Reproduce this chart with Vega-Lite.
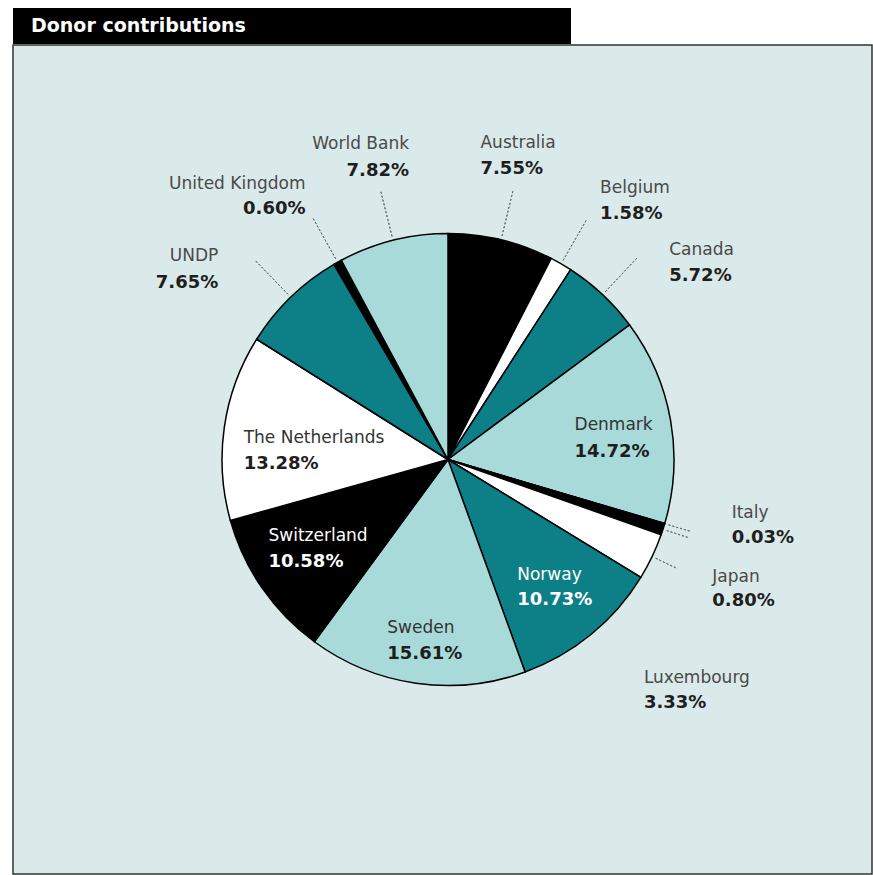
{
  "$schema": "https://vega.github.io/schema/vega-lite/v6.json",
  "background": "#ffffff",
  "padding": {"left": 12, "top": 8, "right": 0, "bottom": 0},
  "spacing": 0,
  "config": {"arc": {"x": {"expr": "concat_1_width/2+5.5"}}, "text": {"x": {"expr": "concat_1_width/2+5.5"}}},
  "vconcat": [
    {
      "width": 558,
      "height": 36,
      "view": {"fill": "#000000", "stroke": null},
      "title": {"text": "Donor contributions", "anchor": "start", "frame": "group", "orient": "top", "offset": -43, "baseline": "alphabetic", "dx": 18, "color": "#ffffff", "font": "DejaVu Sans", "fontSize": 19, "fontWeight": "bold"},
      "data": {"values": [{"k": 1}]},
      "mark": {"type": "point", "opacity": 0},
      "encoding": {}
    },
    {
      "width": 859,
      "height": 829,
      "view": {"fill": "#dae9e9", "stroke": "#333333", "strokeWidth": 1.5},
      "data": {"values": [
        {"country": "Australia", "share": 0.0755, "ord": 1},
        {"country": "Belgium", "share": 0.0158, "ord": 2},
        {"country": "Canada", "share": 0.0572, "ord": 3},
        {"country": "Denmark", "share": 0.1472, "ord": 4},
        {"country": "Italy", "share": 0.0003, "ord": 5},
        {"country": "Japan", "share": 0.0080, "ord": 6},
        {"country": "Luxembourg", "share": 0.0333, "ord": 7},
        {"country": "Norway", "share": 0.1073, "ord": 8},
        {"country": "Sweden", "share": 0.1561, "ord": 9},
        {"country": "Switzerland", "share": 0.1058, "ord": 10},
        {"country": "The Netherlands", "share": 0.1328, "ord": 11},
        {"country": "UNDP", "share": 0.0765, "ord": 12},
        {"country": "United Kingdom", "share": 0.0060, "ord": 13},
        {"country": "World Bank", "share": 0.0782, "ord": 14}
      ]},
      "encoding": {
        "theta": {"field": "share", "type": "quantitative", "stack": true},
        "order": {"field": "ord", "type": "quantitative"},
        "detail": {"field": "country", "type": "nominal"}
      },
      "layer": [
        {"mark": {"type": "arc", "outerRadius": 226, "stroke": "#000000", "strokeWidth": 1.5},
         "encoding": {"color": {"field": "country", "type": "nominal", "legend": null,
           "scale": {"domain": ["Australia","Belgium","Canada","Denmark","Italy","Japan","Luxembourg","Norway","Sweden","Switzerland","The Netherlands","UNDP","United Kingdom","World Bank"],
                     "range": ["#000000","#ffffff","#0d7f86","#a8dada","#000000","#000000","#ffffff","#0d7f86","#a8dada","#000000","#ffffff","#0d7f86","#000000","#a8dada"]}}}},
        {"mark": {"type": "arc", "innerRadius": 229, "outerRadius": 276, "padAngle": 3, "filled": false, "stroke": "#6a6a6a", "strokeWidth": 1, "strokeDash": [2, 2]},
         "encoding": {"strokeOpacity": {"condition": {"test": "indexof(['Australia','Belgium','Canada','UNDP','United Kingdom','World Bank'], datum.country) >= 0", "value": 1}, "value": 0}}},
        {"mark": {"type": "arc", "innerRadius": 229, "outerRadius": 252, "padAngle": 3, "filled": false, "stroke": "#6a6a6a", "strokeWidth": 1, "strokeDash": [2, 2]},
         "encoding": {"strokeOpacity": {"condition": {"test": "indexof(['Italy','Japan','Luxembourg'], datum.country) >= 0", "value": 1}, "value": 0}}},

        {"mark": {"type": "text", "radius": 300, "align": "left", "baseline": "middle", "dx": -38, "dy": -25, "font": "DejaVu Sans", "fontSize": 17, "fill": "#4a4a4a"},
         "encoding": {"text": {"condition": {"test": "datum.country === 'Australia'", "field": "country", "type": "nominal"}, "value": ""}}},
        {"mark": {"type": "text", "radius": 300, "align": "left", "baseline": "middle", "dx": -38, "dy": 1, "font": "DejaVu Sans", "fontSize": 18, "fontWeight": "bold", "fill": "#1e1e1e"},
         "encoding": {"text": {"condition": {"test": "datum.country === 'Australia'", "field": "share", "type": "quantitative", "format": ".2%"}, "value": ""}}},

        {"mark": {"type": "text", "radius": 300, "align": "left", "baseline": "middle", "dx": 2, "dy": -12, "font": "DejaVu Sans", "fontSize": 17, "fill": "#4a4a4a"},
         "encoding": {"text": {"condition": {"test": "datum.country === 'Belgium'", "field": "country", "type": "nominal"}, "value": ""}}},
        {"mark": {"type": "text", "radius": 300, "align": "left", "baseline": "middle", "dx": 2, "dy": 14, "font": "DejaVu Sans", "fontSize": 18, "fontWeight": "bold", "fill": "#1e1e1e"},
         "encoding": {"text": {"condition": {"test": "datum.country === 'Belgium'", "field": "share", "type": "quantitative", "format": ".2%"}, "value": ""}}},

        {"mark": {"type": "text", "radius": 300, "align": "left", "baseline": "middle", "dx": 16, "dy": 9, "font": "DejaVu Sans", "fontSize": 17, "fill": "#4a4a4a"},
         "encoding": {"text": {"condition": {"test": "datum.country === 'Canada'", "field": "country", "type": "nominal"}, "value": ""}}},
        {"mark": {"type": "text", "radius": 300, "align": "left", "baseline": "middle", "dx": 16, "dy": 35, "font": "DejaVu Sans", "fontSize": 18, "fontWeight": "bold", "fill": "#1e1e1e"},
         "encoding": {"text": {"condition": {"test": "datum.country === 'Canada'", "field": "share", "type": "quantitative", "format": ".2%"}, "value": ""}}},

        {"mark": {"type": "text", "radius": 300, "align": "left", "baseline": "middle", "dx": -4, "dy": -32, "font": "DejaVu Sans", "fontSize": 17, "fill": "#4a4a4a"},
         "encoding": {"text": {"condition": {"test": "datum.country === 'Italy'", "field": "country", "type": "nominal"}, "value": ""}}},
        {"mark": {"type": "text", "radius": 300, "align": "left", "baseline": "middle", "dx": -4, "dy": -7, "font": "DejaVu Sans", "fontSize": 18, "fontWeight": "bold", "fill": "#1e1e1e"},
         "encoding": {"text": {"condition": {"test": "datum.country === 'Italy'", "field": "share", "type": "quantitative", "format": ".2%"}, "value": ""}}},

        {"mark": {"type": "text", "radius": 300, "align": "left", "baseline": "middle", "dx": -21, "dy": 25, "font": "DejaVu Sans", "fontSize": 17, "fill": "#4a4a4a"},
         "encoding": {"text": {"condition": {"test": "datum.country === 'Japan'", "field": "country", "type": "nominal"}, "value": ""}}},
        {"mark": {"type": "text", "radius": 300, "align": "left", "baseline": "middle", "dx": -21, "dy": 49, "font": "DejaVu Sans", "fontSize": 18, "fontWeight": "bold", "fill": "#1e1e1e"},
         "encoding": {"text": {"condition": {"test": "datum.country === 'Japan'", "field": "share", "type": "quantitative", "format": ".2%"}, "value": ""}}},

        {"mark": {"type": "text", "radius": 300, "align": "left", "baseline": "middle", "dx": -75, "dy": 90, "font": "DejaVu Sans", "fontSize": 17, "fill": "#4a4a4a"},
         "encoding": {"text": {"condition": {"test": "datum.country === 'Luxembourg'", "field": "country", "type": "nominal"}, "value": ""}}},
        {"mark": {"type": "text", "radius": 300, "align": "left", "baseline": "middle", "dx": -75, "dy": 115, "font": "DejaVu Sans", "fontSize": 18, "fontWeight": "bold", "fill": "#1e1e1e"},
         "encoding": {"text": {"condition": {"test": "datum.country === 'Luxembourg'", "field": "share", "type": "quantitative", "format": ".2%"}, "value": ""}}},

        {"mark": {"type": "text", "radius": 300, "align": "right", "baseline": "middle", "dx": -21, "dy": 12, "font": "DejaVu Sans", "fontSize": 17, "fill": "#4a4a4a"},
         "encoding": {"text": {"condition": {"test": "datum.country === 'UNDP'", "field": "country", "type": "nominal"}, "value": ""}}},
        {"mark": {"type": "text", "radius": 300, "align": "right", "baseline": "middle", "dx": -21, "dy": 39, "font": "DejaVu Sans", "fontSize": 18, "fontWeight": "bold", "fill": "#1e1e1e"},
         "encoding": {"text": {"condition": {"test": "datum.country === 'UNDP'", "field": "share", "type": "quantitative", "format": ".2%"}, "value": ""}}},

        {"mark": {"type": "text", "radius": 300, "align": "right", "baseline": "middle", "dx": 4, "dy": -14, "font": "DejaVu Sans", "fontSize": 17, "fill": "#4a4a4a"},
         "encoding": {"text": {"condition": {"test": "datum.country === 'United Kingdom'", "field": "country", "type": "nominal"}, "value": ""}}},
        {"mark": {"type": "text", "radius": 300, "align": "right", "baseline": "middle", "dx": 4, "dy": 11, "font": "DejaVu Sans", "fontSize": 18, "fontWeight": "bold", "fill": "#1e1e1e"},
         "encoding": {"text": {"condition": {"test": "datum.country === 'United Kingdom'", "field": "share", "type": "quantitative", "format": ".2%"}, "value": ""}}},

        {"mark": {"type": "text", "radius": 300, "align": "right", "baseline": "middle", "dx": 34, "dy": -25, "font": "DejaVu Sans", "fontSize": 17, "fill": "#4a4a4a"},
         "encoding": {"text": {"condition": {"test": "datum.country === 'World Bank'", "field": "country", "type": "nominal"}, "value": ""}}},
        {"mark": {"type": "text", "radius": 300, "align": "right", "baseline": "middle", "dx": 34, "dy": 2, "font": "DejaVu Sans", "fontSize": 18, "fontWeight": "bold", "fill": "#1e1e1e"},
         "encoding": {"text": {"condition": {"test": "datum.country === 'World Bank'", "field": "share", "type": "quantitative", "format": ".2%"}, "value": ""}}},

        {"mark": {"type": "text", "radius": 160, "align": "left", "baseline": "middle", "dx": -31, "dy": -7, "font": "DejaVu Sans", "fontSize": 17, "fill": "#333333"},
         "encoding": {"text": {"condition": {"test": "datum.country === 'Denmark'", "field": "country", "type": "nominal"}, "value": ""}}},
        {"mark": {"type": "text", "radius": 160, "align": "left", "baseline": "middle", "dx": -31, "dy": 20, "font": "DejaVu Sans", "fontSize": 18, "fontWeight": "bold", "fill": "#1e1e1e"},
         "encoding": {"text": {"condition": {"test": "datum.country === 'Denmark'", "field": "share", "type": "quantitative", "format": ".2%"}, "value": ""}}},

        {"mark": {"type": "text", "radius": 160, "align": "left", "baseline": "middle", "dx": -32, "dy": -8, "font": "DejaVu Sans", "fontSize": 17, "fill": "#ffffff"},
         "encoding": {"text": {"condition": {"test": "datum.country === 'Norway'", "field": "country", "type": "nominal"}, "value": ""}}},
        {"mark": {"type": "text", "radius": 160, "align": "left", "baseline": "middle", "dx": -32, "dy": 17, "font": "DejaVu Sans", "fontSize": 18, "fontWeight": "bold", "fill": "#ffffff"},
         "encoding": {"text": {"condition": {"test": "datum.country === 'Norway'", "field": "share", "type": "quantitative", "format": ".2%"}, "value": ""}}},

        {"mark": {"type": "text", "radius": 160, "align": "left", "baseline": "middle", "dx": -38, "dy": 10, "font": "DejaVu Sans", "fontSize": 17, "fill": "#333333"},
         "encoding": {"text": {"condition": {"test": "datum.country === 'Sweden'", "field": "country", "type": "nominal"}, "value": ""}}},
        {"mark": {"type": "text", "radius": 160, "align": "left", "baseline": "middle", "dx": -38, "dy": 36, "font": "DejaVu Sans", "fontSize": 18, "fontWeight": "bold", "fill": "#1e1e1e"},
         "encoding": {"text": {"condition": {"test": "datum.country === 'Sweden'", "field": "share", "type": "quantitative", "format": ".2%"}, "value": ""}}},

        {"mark": {"type": "text", "radius": 160, "align": "left", "baseline": "middle", "dx": -48, "dy": -15, "font": "DejaVu Sans", "fontSize": 17, "fill": "#ffffff"},
         "encoding": {"text": {"condition": {"test": "datum.country === 'Switzerland'", "field": "country", "type": "nominal"}, "value": ""}}},
        {"mark": {"type": "text", "radius": 160, "align": "left", "baseline": "middle", "dx": -48, "dy": 11, "font": "DejaVu Sans", "fontSize": 18, "fontWeight": "bold", "fill": "#ffffff"},
         "encoding": {"text": {"condition": {"test": "datum.country === 'Switzerland'", "field": "share", "type": "quantitative", "format": ".2%"}, "value": ""}}},

        {"mark": {"type": "text", "radius": 160, "align": "left", "baseline": "middle", "dx": -46, "dy": 1, "font": "DejaVu Sans", "fontSize": 17, "fill": "#333333"},
         "encoding": {"text": {"condition": {"test": "datum.country === 'The Netherlands'", "field": "country", "type": "nominal"}, "value": ""}}},
        {"mark": {"type": "text", "radius": 160, "align": "left", "baseline": "middle", "dx": -46, "dy": 27, "font": "DejaVu Sans", "fontSize": 18, "fontWeight": "bold", "fill": "#1e1e1e"},
         "encoding": {"text": {"condition": {"test": "datum.country === 'The Netherlands'", "field": "share", "type": "quantitative", "format": ".2%"}, "value": ""}}}
      ]
    }
  ]
}
